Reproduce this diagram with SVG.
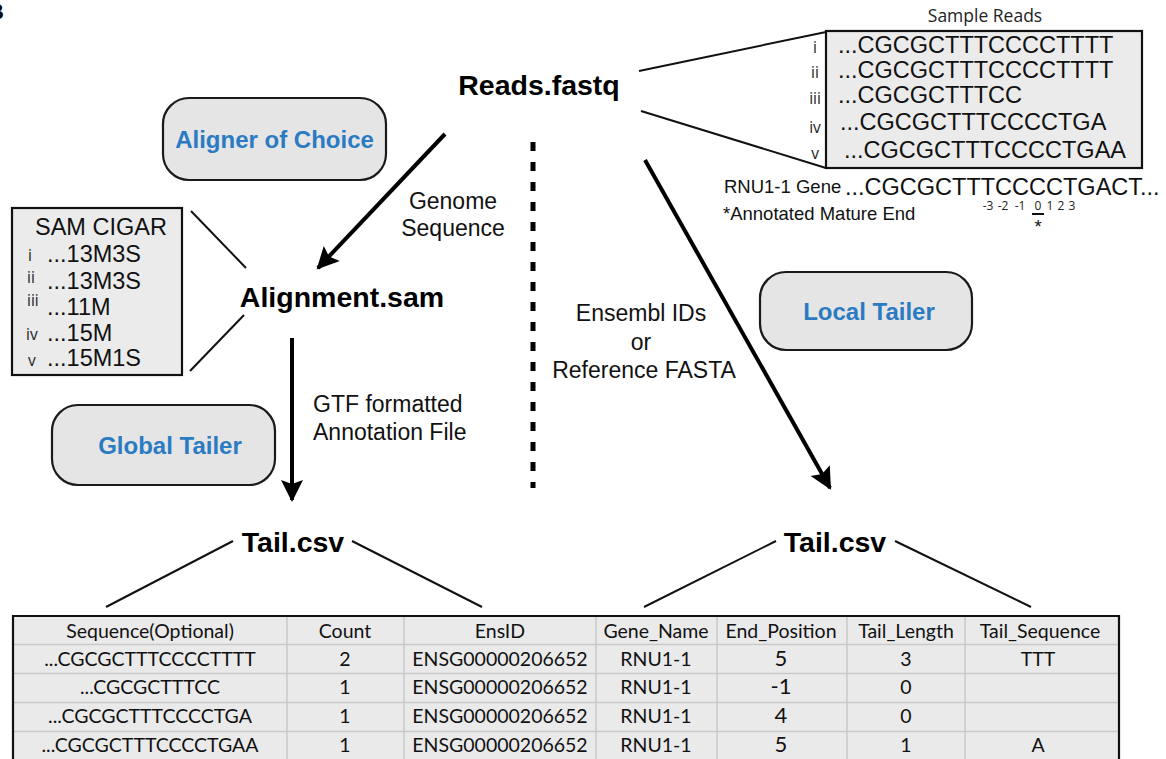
<svg xmlns="http://www.w3.org/2000/svg" width="1166" height="759" viewBox="0 0 1166 759">
<style>
.bold{font-family:"Liberation Sans",Arial,sans-serif;font-weight:bold;fill:#000}
.big{font-size:28.5px}
.lab{font-family:"Liberation Sans",Arial,sans-serif;font-size:23px;fill:#111}
.box{fill:#e5e5e6;stroke:#1a1a1a;stroke-width:2.2}
.boxlab{font-family:"Liberation Sans",Arial,sans-serif;font-weight:bold;font-size:24px;fill:#2a7bc1}
.panel{fill:#ebebec;stroke:#111;stroke-width:2.2}
.seq{font-family:"Liberation Sans",Arial,sans-serif;font-size:23.5px;fill:#111}
.rn{font-family:"Open Sans","Liberation Sans",sans-serif;font-size:15.5px;fill:#222}
.small{font-family:"Liberation Sans",Arial,sans-serif;font-size:18.5px;fill:#111}
.tiny{font-family:"Open Sans","Liberation Sans",sans-serif;font-size:12px;fill:#222}
.thin{stroke:#111;stroke-width:2;fill:none}
.arrow{stroke:#000;stroke-width:4;fill:none}
.tt{font-family:Lato,"Open Sans",sans-serif;font-size:19.5px;fill:#111;text-anchor:middle}
.grid{stroke:#c9c9c9;stroke-width:1.5}
</style>
<defs>
<marker id="ah" markerUnits="userSpaceOnUse" markerWidth="26" markerHeight="26" viewBox="-2 -13 26 26" refX="20" refY="0" orient="auto">
<path d="M0,-11 L22,0 L0,11 L4,0 z" fill="#000"/>
</marker>
</defs>
<rect width="1166" height="759" fill="#fff"/>
<text class="bold" x="-12" y="19" font-size="22">B</text>

<g id="reads-fastq"><text class="bold big" x="539" y="95" text-anchor="middle">Reads.fastq</text></g>

<g id="aligner-of-choice">
<rect class="box" x="163" y="98" width="223" height="82" rx="26"/>
<text class="boxlab" x="274.5" y="148" text-anchor="middle">Aligner of Choice</text>
</g>

<g id="sample-reads">
<text x="985" y="22" text-anchor="middle" font-family="Open Sans, Liberation Sans, sans-serif" font-size="17.5" fill="#222">Sample Reads</text>
<rect class="panel" x="826" y="31" width="316" height="137"/>
<text class="rn" x="815" y="53" text-anchor="middle">i</text>
<text class="rn" x="815" y="78" text-anchor="middle">ii</text>
<text class="rn" x="815" y="104" text-anchor="middle">iii</text>
<text class="rn" x="815" y="133" text-anchor="middle">iv</text>
<text class="rn" x="815" y="159" text-anchor="middle">v</text>
<text class="seq" x="838" y="53">...CGCGCTTTCCCCTTTT</text>
<text class="seq" x="838" y="78">...CGCGCTTTCCCCTTTT</text>
<text class="seq" x="838" y="103">...CGCGCTTTCC</text>
<text class="seq" x="840" y="130">...CGCGCTTTCCCCTGA</text>
<text class="seq" x="844" y="158">...CGCGCTTTCCCCTGAA</text>
</g>

<g id="gene">
<text class="small" x="724" y="193">RNU1-1 Gene</text>
<text class="seq" x="845" y="195">...CGCGCTTTCCCCTGACT...</text>
<text class="tiny" text-anchor="middle" y="210"><tspan x="988">-3</tspan><tspan x="1003">-2</tspan><tspan x="1020">-1</tspan><tspan x="1038">0</tspan><tspan x="1050">1</tspan><tspan x="1061">2</tspan><tspan x="1072">3</tspan></text>
<line x1="1032" y1="214" x2="1044" y2="214" stroke="#111" stroke-width="2"/>
<text class="small" x="1038" y="233" text-anchor="middle">*</text>
<text class="small" x="723" y="220">*Annotated Mature End</text>
</g>

<g id="sam-cigar">
<rect class="panel" x="12" y="208" width="170" height="167"/>
<text class="seq" x="35" y="235" font-size="23">SAM CIGAR</text>
<text class="rn" x="28" y="261">i</text>
<text class="rn" x="27" y="283">ii</text>
<text class="rn" x="27" y="306">iii</text>
<text class="rn" x="26" y="340">iv</text>
<text class="rn" x="28" y="366">v</text>
<text class="seq" x="47" y="262" font-size="23">...13M3S</text>
<text class="seq" x="47" y="289" font-size="23">...13M3S</text>
<text class="seq" x="47" y="315" font-size="23">...11M</text>
<text class="seq" x="47" y="341" font-size="23">...15M</text>
<text class="seq" x="47" y="366" font-size="23">...15M1S</text>
</g>

<g id="alignment-sam"><text class="bold big" x="342" y="307" text-anchor="middle">Alignment.sam</text></g>

<g id="global-tailer">
<rect class="box" x="52" y="405" width="223" height="80" rx="26"/>
<text class="boxlab" x="170" y="454" text-anchor="middle">Global Tailer</text>
</g>

<g id="local-tailer">
<rect class="box" x="760" y="272" width="212" height="78" rx="26"/>
<text class="boxlab" x="869" y="320" text-anchor="middle">Local Tailer</text>
</g>

<g id="tail-left"><text class="bold big" x="293" y="552" text-anchor="middle">Tail.csv</text></g>
<g id="tail-right"><text class="bold big" x="835" y="552" text-anchor="middle">Tail.csv</text></g>

<g id="labels">
<text class="lab" x="453" y="209" text-anchor="middle">Genome</text>
<text class="lab" x="453" y="236" text-anchor="middle">Sequence</text>
<text class="lab" x="313" y="412">GTF formatted</text>
<text class="lab" x="313" y="440">Annotation File</text>
<text class="lab" x="641" y="321" text-anchor="middle">Ensembl IDs</text>
<text class="lab" x="641" y="350" text-anchor="middle">or</text>
<text class="lab" x="644" y="378" text-anchor="middle">Reference FASTA</text>
</g>

<g id="connectors">
<line class="arrow" x1="445" y1="134" x2="318" y2="268" marker-end="url(#ah)"/>
<line class="arrow" x1="292" y1="338" x2="292" y2="500" marker-end="url(#ah)"/>
<line class="arrow" x1="645" y1="160" x2="830" y2="488" marker-end="url(#ah)"/>
<line x1="533" y1="142" x2="533" y2="488" stroke="#000" stroke-width="5" stroke-dasharray="9 11"/>
<line class="thin" x1="639" y1="71" x2="826" y2="32"/>
<line class="thin" x1="641" y1="111" x2="826" y2="168"/>
<line class="thin" x1="191" y1="211" x2="246" y2="268"/>
<line class="thin" x1="190" y1="371" x2="244" y2="315"/>
<line class="thin" x1="233" y1="541" x2="106" y2="607"/>
<line class="thin" x1="352" y1="541" x2="482" y2="607"/>
<line class="thin" x1="776" y1="541" x2="644" y2="607"/>
<line class="thin" x1="895" y1="541" x2="1031" y2="607"/>
</g>

<g id="table">
<rect x="13" y="616" width="1106" height="160" fill="#eaeaeb"/>
<g class="grid">
<line x1="13" y1="644.5" x2="1119" y2="644.5"/>
<line x1="13" y1="673.5" x2="1119" y2="673.5"/>
<line x1="13" y1="702.5" x2="1119" y2="702.5"/>
<line x1="13" y1="731.5" x2="1119" y2="731.5"/>
<line x1="287" y1="616" x2="287" y2="759"/>
<line x1="404" y1="616" x2="404" y2="759"/>
<line x1="596" y1="616" x2="596" y2="759"/>
<line x1="717" y1="616" x2="717" y2="759"/>
<line x1="847" y1="616" x2="847" y2="759"/>
<line x1="965" y1="616" x2="965" y2="759"/>
</g>
<path d="M13,770 V616 H1119 V770" fill="none" stroke="#111" stroke-width="2.2"/>
<text class="tt" y="638"><tspan x="150">Sequence(Optional)</tspan><tspan x="345">Count</tspan><tspan x="500">EnsID</tspan><tspan x="656">Gene_Name</tspan><tspan x="781">End_Position</tspan><tspan x="906">Tail_Length</tspan><tspan x="1040">Tail_Sequence</tspan></text>
<text class="tt" y="666"><tspan x="150">...CGCGCTTTCCCCTTTT</tspan><tspan x="345">2</tspan><tspan x="500">ENSG00000206652</tspan><tspan x="656">RNU1-1</tspan><tspan x="781" font-size="22">5</tspan><tspan x="906">3</tspan><tspan x="1038">TTT</tspan></text>
<text class="tt" y="694"><tspan x="150">...CGCGCTTTCC</tspan><tspan x="345">1</tspan><tspan x="500">ENSG00000206652</tspan><tspan x="656">RNU1-1</tspan><tspan x="781" font-size="22">-1</tspan><tspan x="906">0</tspan></text>
<text class="tt" y="723"><tspan x="150">...CGCGCTTTCCCCTGA</tspan><tspan x="345">1</tspan><tspan x="500">ENSG00000206652</tspan><tspan x="656">RNU1-1</tspan><tspan x="781" font-size="22">4</tspan><tspan x="906">0</tspan></text>
<text class="tt" y="752"><tspan x="150">...CGCGCTTTCCCCTGAA</tspan><tspan x="345">1</tspan><tspan x="500">ENSG00000206652</tspan><tspan x="656">RNU1-1</tspan><tspan x="781" font-size="22">5</tspan><tspan x="906">1</tspan><tspan x="1038">A</tspan></text>
</g>
</svg>
